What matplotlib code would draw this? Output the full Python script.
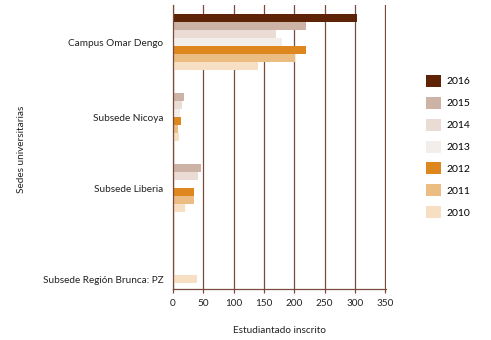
import matplotlib.pyplot as plt
import numpy as np

# Data
sedes = ['Campus Omar Dengo', 'Subsede Nicoya', 'Subsede Liberia', 'Subsede Región Brunca: PZ']
years = ['2016', '2015', '2014', '2013', '2012', '2011', '2010']
v2016 = [304, 0, 0, 0]
v2015 = [219, 18, 46, 0]
v2014 = [169, 15, 42, 0]
v2013 = [180, 11, 0, 0]
v2012 = [219, 14, 35, 0]
v2011 = [201, 9, 35, 0]
v2010 = [140, 10, 20, 40]
values = [v2016, v2015, v2014, v2013, v2012, v2011, v2010]
colors = ['#5E2306', '#CDB3A5', '#EADCD5', '#F4EEEB', '#DF871F', '#ECBD82', '#F7DFC3']

# label positions were slightly offset from the bar groups in the original
label_pos = [0, 1.07, 2.06, 3.35]

plt.rcParams['font.family'] = ['Lato', 'DejaVu Sans']
fig = plt.figure(figsize=(4.91, 3.40), dpi=100)
ax = fig.add_axes([0.3523, 0.15, 0.4338, 0.835])

grid_c = '#7A4B3C'
h = 0.113
y = np.arange(len(sedes))
for i, (yr, vals, c) in enumerate(zip(years, values, colors)):
    ax.barh(y - 3 * h + i * h, vals, height=h, color=c, label=yr, linewidth=0)

ax.set_xlim(0, 351)
ax.set_ylim(3.48, -0.52)
ax.set_xticks(np.arange(0, 351, 50))
ax.set_yticks(label_pos)
ax.set_yticklabels(sedes)
ax.tick_params(axis='y', length=0, pad=7, labelsize=7.2, colors='#222222')
ax.tick_params(axis='x', length=3, width=0.9, color=grid_c, labelsize=7.2, pad=4, labelcolor='#222222')

ax.set_axisbelow(True)
ax.grid(axis='x', color=grid_c, linewidth=0.9)
ax.grid(axis='y', visible=False)
for s in ['top', 'right']:
    ax.spines[s].set_visible(False)
ax.spines['left'].set_color(grid_c)
ax.spines['left'].set_linewidth(0.9)
ax.spines['bottom'].set_color(grid_c)
ax.spines['bottom'].set_linewidth(0.9)

ax.set_xlabel('Estudiantado inscrito', fontsize=7.2, labelpad=13, color='#222222')
fig.text(0.043, 0.56, 'Sedes universitarias', rotation=90, fontsize=7.2,
         ha='center', va='center', color='#222222')

fig.legend(loc='center left', bbox_to_anchor=(0.868, 0.569), frameon=False, fontsize=7.5,
           handlelength=1.4, handleheight=1.4, labelspacing=0.95, handletextpad=0.55,
           borderaxespad=0, borderpad=0)

fig.savefig('out.png', dpi=100)
